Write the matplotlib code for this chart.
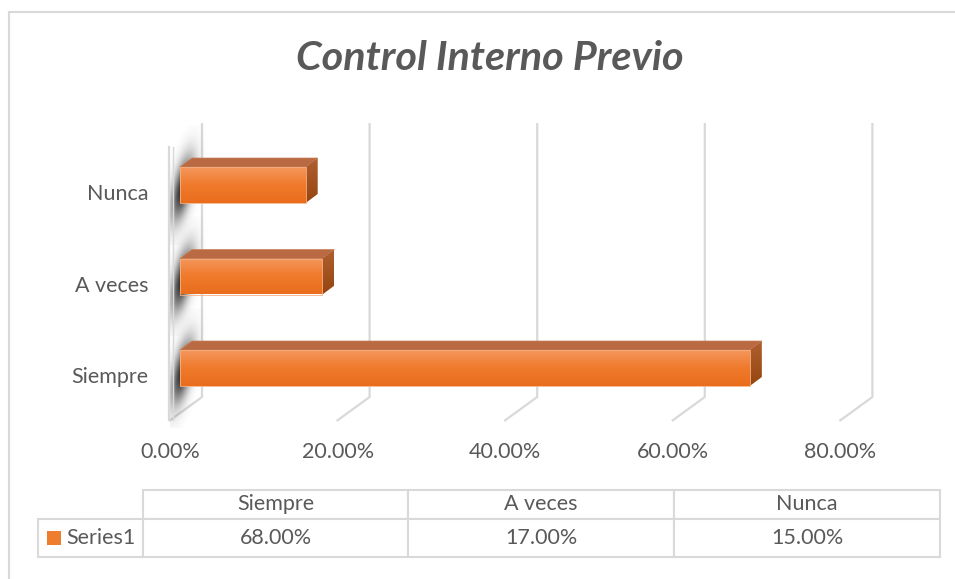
import matplotlib.pyplot as plt
import numpy as np
from matplotlib.colors import LinearSegmentedColormap
from matplotlib.lines import Line2D
from matplotlib.patches import Polygon, Rectangle
from matplotlib.table import Table

categories = ["Siempre", "A veces", "Nunca"]
values = [68.0, 17.0, 15.0]
x_ticks = [0, 20, 40, 60, 80]
series_name = "Series1"
title = "Control Interno Previo"

W, H = 955, 579
# pixel anchors of the 3D plot (front plane)
X0_PX, PX_PER_PCT = 180, 8.38
Y0_PX, PX_PER_CAT = 368, 91.5

TEXT = "#595959"
GRID = "#d9d9d9"
FONT = ["Lato", "DejaVu Sans"]
FS = 15.5

plt.rcParams["font.family"] = FONT


def dx(px):
    return px / PX_PER_PCT


def dy(px):
    return px / PX_PER_CAT


def ypx(py):
    # pixel row -> category units
    return (Y0_PX - py) / PX_PER_CAT


fig = plt.figure(figsize=(W / 100, H / 100), dpi=100)
ax = fig.add_axes([0, 0, 1, 1])
ax.axis("off")

# chart frame (top and left edges only visible)
fig.add_artist(Line2D([9 / W, 9 / W], [0, 1 - 12 / H], transform=fig.transFigure,
                      color=GRID, lw=1.5))
fig.add_artist(Line2D([9 / W, 1], [1 - 12 / H, 1 - 12 / H], transform=fig.transFigure,
                      color=GRID, lw=1.5))

fig.text(490 / W, 1 - 70 / H, title, fontsize=29.8, fontweight="bold", fontstyle="italic",
         color=TEXT, ha="center", va="baseline")

# back wall / floor gridlines
wall_top, floor_back, floor_front = ypx(123), ypx(397), ypx(421)
back_off, front_off = dx(22), dx(-11)
for t in x_ticks:
    ax.plot([t + back_off, t + back_off, t + front_off],
            [wall_top, floor_back, floor_front], color=GRID, lw=1.6,
            solid_capstyle="butt", zorder=1)
    ax.text(t + dx(-10), ypx(452), f"{t:.2f}%", ha="center", va="center",
            fontsize=FS, color=TEXT)

# left wall front edge
for off, lw in [(-11, 1.6), (-7, 1.0)]:
    ax.plot([dx(off), dx(off)], [ypx(147), floor_front + dy(1)], color=GRID, lw=lw,
            zorder=3)

# bars
half = dy(18)
DX, DY = dx(12), dy(9)
front_cmap = LinearSegmentedColormap.from_list("front", ["#f4965c", "#f07a2c", "#e96d1c"])
side_cmap = LinearSegmentedColormap.from_list("side", ["#b0602f", "#96450f"])
grad = np.linspace(0, 1, 64).reshape(-1, 1)

# soft shadow blobs on the left wall (cut at the wall's front edge)
sx_px = np.linspace(170, 215, 90)
sy_px = np.linspace(-60, 60, 200)
XX, YY = np.meshgrid(sx_px, sy_px)
xc = 183 - 0.2 * YY
blob = 0.95 * np.exp(-0.5 * ((XX - xc) / 6.5) ** 2 - 0.5 * ((YY - 4) / 22) ** 2)
shadow = np.zeros(blob.shape + (4,))
shadow[..., :3] = 0.12
shadow[..., 3] = np.clip(blob, 0, 1)

for i, v in enumerate(values):
    c = i
    ax.imshow(shadow, extent=(dx(170 - X0_PX), dx(215 - X0_PX), c - dy(60), c + dy(60)),
              origin="upper", aspect="auto", interpolation="bilinear", zorder=2)

    ax.imshow(grad, extent=(0, v, c - half, c + half), origin="upper", aspect="auto",
              cmap=front_cmap, zorder=4)
    ax.add_patch(Rectangle((0, c - half), v, 2 * half, fill=False, edgecolor="#f6b184",
                           lw=0.6, zorder=5))
    top = Polygon([(0, c + half), (v, c + half), (v + DX, c + half + DY),
                   (DX, c + half + DY)], closed=True, facecolor="#b96a42",
                  edgecolor="#c98058", lw=0.5, zorder=4)
    ax.add_patch(top)
    side_poly = Polygon([(v, c - half), (v + DX, c - half + DY), (v + DX, c + half + DY),
                         (v, c + half)], closed=True, facecolor="none", edgecolor="none")
    ax.add_patch(side_poly)
    side = ax.imshow(grad, extent=(v, v + DX, c - half, c + half + DY), origin="upper",
                     aspect="auto", cmap=side_cmap, zorder=4)
    side.set_clip_path(side_poly)

    ax.text(dx(148 - X0_PX), c - dy(9), categories[i], ha="right", va="center",
            fontsize=FS, color=TEXT)

ax.set_xlim(-X0_PX / PX_PER_PCT, (W - X0_PX) / PX_PER_PCT)
ax.set_ylim(-(H - Y0_PX) / PX_PER_CAT, Y0_PX / PX_PER_CAT)

# data table (column 0 holds the legend key, no header cell above it)
tl, tt, tr, tb = 38, 490, 940, 557
tax = fig.add_axes([tl / W, 1 - tb / H, (tr - tl) / W, (tb - tt) / H])
tax.axis("off")
table = Table(tax, bbox=[0, 0, 1, 1])
col_w = [105, 265, 266, 266]
head_h, row_h = 29, 38
for j, cat in enumerate(categories):
    table.add_cell(0, j + 1, width=col_w[j + 1], height=head_h, text=cat, loc="center",
                   edgecolor=GRID)
    table.add_cell(1, j + 1, width=col_w[j + 1], height=row_h, text=f"{values[j]:.2f}%",
                   loc="center", edgecolor=GRID)
table.add_cell(1, 0, width=col_w[0], height=row_h, text="", edgecolor=GRID)
table.auto_set_font_size(False)
table.set_fontsize(FS)
for cell in table.get_celld().values():
    cell.set_linewidth(1.5)
    cell.get_text().set_color(TEXT)
tax.add_table(table)

tw, th = tr - tl, tb - tt
tax.add_patch(Rectangle(((47 - tl) / tw, (tb - 545) / th), 14 / tw, 14 / th,
                        transform=tax.transAxes, facecolor="#ef7d2e", edgecolor="none"))
tax.text((66 - tl) / tw, (tb - 538) / th, series_name, transform=tax.transAxes,
         ha="left", va="center", fontsize=FS, color=TEXT)

fig.savefig("out.png", dpi=100)
